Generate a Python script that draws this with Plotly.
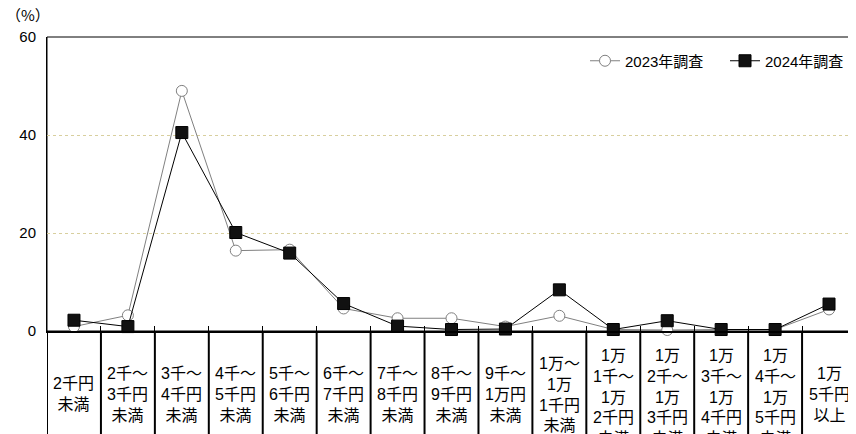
import plotly.graph_objects as go

categories = [
    "2千円未満", "2千～3千円未満", "3千～4千円未満", "4千～5千円未満", "5千～6千円未満",
    "6千～7千円未満", "7千～8千円未満", "8千～9千円未満", "9千～1万円未満",
    "1万～1万1千円未満", "1万1千～1万2千円未満", "1万2千～1万3千円未満",
    "1万3千～1万4千円未満", "1万4千～1万5千円未満", "1万5千円以上",
]
tick_labels = [
    "2千円<br>未満", "2千～<br>3千円<br>未満", "3千～<br>4千円<br>未満", "4千～<br>5千円<br>未満",
    "5千～<br>6千円<br>未満", "6千～<br>7千円<br>未満", "7千～<br>8千円<br>未満",
    "8千～<br>9千円<br>未満", "9千～<br>1万円<br>未満", "1万～<br>1万<br>1千円<br>未満",
    "1万<br>1千～<br>1万<br>2千円<br>未満", "1万<br>2千～<br>1万<br>3千円<br>未満",
    "1万<br>3千～<br>1万<br>4千円<br>未満", "1万<br>4千～<br>1万<br>5千円<br>未満",
    "1万<br>5千円<br>以上",
]
values_2023 = [0.9, 3.2, 49.0, 16.4, 16.6, 4.6, 2.6, 2.6, 0.9, 3.1, 0.3, 0.2, 0.3, 0.3, 4.4]
values_2024 = [2.2, 0.9, 40.5, 20.1, 15.9, 5.6, 1.0, 0.3, 0.4, 8.4, 0.3, 2.1, 0.3, 0.3, 5.5]
y_ticks = [0, 20, 40, 60]
series_names = ["2023年調査", "2024年調査"]

FONT = "Liberation Sans, Noto Sans CJK JP, sans-serif"
CJK = "Noto Sans CJK JP, sans-serif"
# page has an 8px body margin; the figure is sized so the plot lands where the reference has it
OFF = 8
W, H = 856 - OFF, 434 - OFF
ML, MR, MT = 47 - OFF, 0, 37 - OFF
plot_h = 294
MB = H - MT - plot_h
plot_w = W - ML - MR
zero_y = MT + plot_h  # figure px of y=0


def py(page_y):
    """page pixel y -> paper coordinate"""
    return (zero_y - (page_y - OFF)) / plot_h


def px(page_x):
    return ((page_x - OFF) - ML) / plot_w


x = list(range(len(categories)))
bounds = [i - 0.5 for i in range(len(categories) + 1)]

fig = go.Figure()
fig.add_trace(go.Scatter(
    x=x, y=values_2023, name=series_names[0], mode="lines+markers",
    line=dict(color="#808080", width=1),
    marker=dict(symbol="circle", size=11, color="white", line=dict(color="#808080", width=1)),
    cliponaxis=False,
))
fig.add_trace(go.Scatter(
    x=x, y=values_2024, name=series_names[1], mode="lines+markers",
    line=dict(color="#000000", width=1),
    marker=dict(symbol="square", size=12, color="#111111", line=dict(color="#000000", width=1)),
    cliponaxis=False,
))

shapes = [dict(type="rect", xref="paper", yref="paper", x0=0, x1=1, y0=0, y1=1,
               line=dict(color="black", width=1), layer="below")]
for b in bounds:
    shapes.append(dict(type="line", xref="x", yref="paper", x0=b, x1=b,
                       y0=0, y1=-MB / plot_h, line=dict(color="black", width=2)))

annotations = []
for xi, lab in zip(x, tick_labels):
    n = lab.count("<br>") + 1
    if n <= 4:
        pos = dict(y=py(394), yanchor="middle")
    else:
        pos = dict(y=py(345), yanchor="top")
    annotations.append(dict(x=xi, xref="x", yref="paper", text=lab, showarrow=False,
                            xanchor="center", align="center",
                            font=dict(family=FONT, size=16, color="black"), **pos))
annotations.append(dict(x=px(28), y=py(15), xref="paper", yref="paper",
                        text="（%）", showarrow=False, xanchor="center", yanchor="middle",
                        font=dict(family=CJK, size=15, color="black")))

fig.update_layout(
    width=W, height=H,
    margin=dict(l=ML, r=MR, t=MT, b=MB, autoexpand=False),
    paper_bgcolor="white", plot_bgcolor="white",
    font=dict(family=FONT, size=14, color="black"),
    showlegend=True,
    legend=dict(orientation="h", x=px(585), xanchor="left", y=py(61), yanchor="middle",
                bgcolor="rgba(0,0,0,0)", font=dict(family=FONT, size=15, color="black"),
                tracegroupgap=0, entrywidth=95, entrywidthmode="pixels"),
    xaxis=dict(range=[-0.5, len(categories) - 0.5], showgrid=False, zeroline=False,
               tickmode="array", tickvals=bounds, ticks="inside", ticklen=5, tickwidth=1,
               tickcolor="black", showticklabels=False, showline=True, linecolor="black", linewidth=2),
    yaxis=dict(range=[0, 60], tickmode="array", tickvals=y_ticks, showgrid=True,
               gridcolor="#d8cf9e", griddash="dot", gridwidth=1, zeroline=False,
               showline=True, linecolor="black", linewidth=1, ticks="",
               ticklabelstandoff=7, tickfont=dict(family=FONT, size=15, color="black")),
    shapes=shapes, annotations=annotations,
)

fig.write_html("out.html")
